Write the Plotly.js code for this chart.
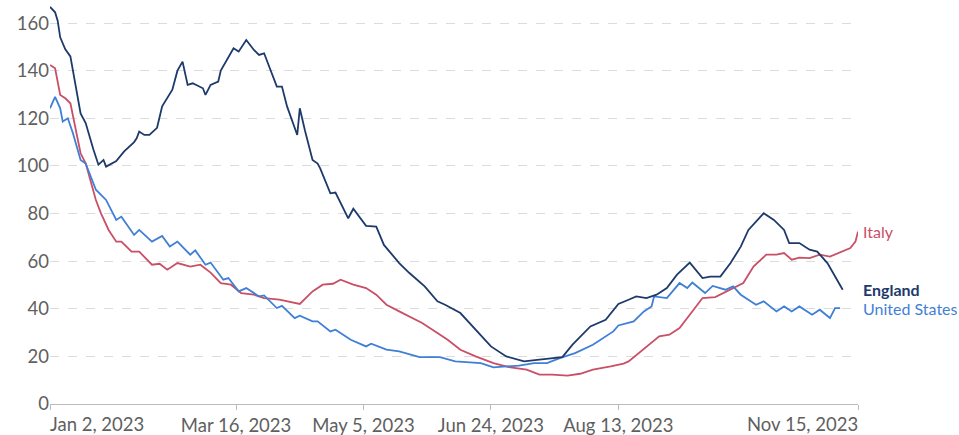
<!DOCTYPE html>
<html>
<head>
<meta charset="utf-8">
<script src="https://cdn.plot.ly/plotly-3.0.1.min.js"></script>
<style>html,body{margin:0;padding:0;background:#fff;}#chart{width:959px;height:435px;}</style>
</head>
<body>
<div id="chart"></div>
<script>
const englandDates = ["2023-01-02","2023-01-04","2023-01-05","2023-01-06","2023-01-08","2023-01-10","2023-01-14","2023-01-16","2023-01-19","2023-01-21","2023-01-23","2023-01-24","2023-01-28","2023-01-31","2023-02-04","2023-02-05","2023-02-06","2023-02-08","2023-02-10","2023-02-13","2023-02-15","2023-02-19","2023-02-21","2023-02-23","2023-02-25","2023-02-27","2023-03-03","2023-03-04","2023-03-06","2023-03-09","2023-03-10","2023-03-15","2023-03-17","2023-03-20","2023-03-23","2023-03-25","2023-03-27","2023-04-01","2023-04-03","2023-04-05","2023-04-09","2023-04-10","2023-04-12","2023-04-15","2023-04-17","2023-04-18","2023-04-22","2023-04-24","2023-04-29","2023-05-01","2023-05-06","2023-05-10","2023-05-13","2023-05-19","2023-05-23","2023-05-29","2023-06-03","2023-06-06","2023-06-12","2023-06-18","2023-06-24","2023-06-30","2023-07-07","2023-07-13","2023-07-18","2023-07-22","2023-07-26","2023-08-02","2023-08-08","2023-08-13","2023-08-17","2023-08-20","2023-08-24","2023-08-28","2023-09-01","2023-09-05","2023-09-10","2023-09-15","2023-09-18","2023-09-22","2023-09-26","2023-09-30","2023-10-03","2023-10-09","2023-10-13","2023-10-17","2023-10-19","2023-10-23","2023-10-27","2023-10-30","2023-11-03","2023-11-05","2023-11-09"];
const englandValues = [166.8,164.5,161,154,149,146,122,118,107,100.5,102.5,99.7,102,106,110,111.6,114.4,113,113,116,125,132,140,143.8,134,134.7,132.6,129.8,134,135.4,140,149.4,148,152.9,148.7,146.6,147.3,133.3,133.3,125,113,124.2,115,102.5,101,99,88.5,88.8,78,82,74.8,74.5,66.8,59.2,55,49.4,43.1,41.7,38.2,31.2,24.2,20,17.9,18.6,19.3,19.7,24.9,32.6,35.4,42,43.8,45.2,44.5,45.9,48.7,54.3,59.4,52.9,53.5,53.5,59.2,66.1,73.1,80.1,77.3,73.1,67.6,67.6,64.8,64,59.2,55.6,48];

const usDates = ["2023-01-02","2023-01-04","2023-01-06","2023-01-07","2023-01-09","2023-01-11","2023-01-14","2023-01-16","2023-01-20","2023-01-24","2023-01-28","2023-01-30","2023-02-04","2023-02-06","2023-02-11","2023-02-15","2023-02-18","2023-02-21","2023-02-26","2023-02-28","2023-03-04","2023-03-06","2023-03-11","2023-03-13","2023-03-17","2023-03-20","2023-03-25","2023-03-27","2023-04-01","2023-04-03","2023-04-08","2023-04-10","2023-04-15","2023-04-17","2023-04-22","2023-04-24","2023-04-30","2023-05-06","2023-05-08","2023-05-14","2023-05-19","2023-05-27","2023-06-04","2023-06-10","2023-06-20","2023-06-25","2023-06-30","2023-07-05","2023-07-11","2023-07-16","2023-07-21","2023-07-27","2023-08-03","2023-08-08","2023-08-11","2023-08-13","2023-08-17","2023-08-19","2023-08-23","2023-08-26","2023-08-27","2023-09-01","2023-09-06","2023-09-09","2023-09-11","2023-09-16","2023-09-19","2023-09-24","2023-09-27","2023-09-30","2023-10-06","2023-10-09","2023-10-14","2023-10-17","2023-10-20","2023-10-23","2023-10-28","2023-10-31","2023-11-04","2023-11-06","2023-11-08"];
const usValues = [124.2,129,124.2,118.6,120,113.7,102.5,101,90,85.7,77.3,78.7,71,73.1,68.2,70.6,66.1,68.2,62.7,64.5,58.5,59.4,52.2,52.9,47.3,48.7,45.2,45.6,40.3,41.2,36.1,37.1,34.7,34.7,30.5,31.2,27,24.2,25.3,22.8,22.1,19.7,19.7,17.9,17.2,15.4,15.8,16.1,17.2,17.2,19.3,21.4,24.9,28.4,30.5,33,34,34.7,38.9,41,45.2,44.5,50.8,48.7,51,46.6,49.6,48,49.4,45.9,41.7,43.1,38.9,41,38.9,41,37.5,39.6,36.1,40.3,40.3];

const italyDates = ["2023-01-02","2023-01-04","2023-01-06","2023-01-08","2023-01-10","2023-01-14","2023-01-16","2023-01-20","2023-01-22","2023-01-25","2023-01-28","2023-01-30","2023-02-03","2023-02-06","2023-02-11","2023-02-14","2023-02-17","2023-02-21","2023-02-26","2023-03-02","2023-03-06","2023-03-10","2023-03-14","2023-03-18","2023-03-23","2023-03-27","2023-04-02","2023-04-07","2023-04-10","2023-04-15","2023-04-19","2023-04-23","2023-04-26","2023-05-01","2023-05-06","2023-05-10","2023-05-14","2023-05-19","2023-05-23","2023-05-28","2023-06-03","2023-06-07","2023-06-12","2023-06-18","2023-06-25","2023-07-01","2023-07-08","2023-07-13","2023-07-18","2023-07-24","2023-07-29","2023-08-03","2023-08-10","2023-08-15","2023-08-17","2023-08-21","2023-08-25","2023-08-29","2023-09-02","2023-09-06","2023-09-10","2023-09-15","2023-09-20","2023-09-26","2023-10-01","2023-10-05","2023-10-10","2023-10-14","2023-10-17","2023-10-20","2023-10-23","2023-10-27","2023-10-31","2023-11-04","2023-11-08","2023-11-12","2023-11-14","2023-11-15"];
const italyValues = [142.4,141,129.8,128.4,126.3,105.3,101.1,85.7,80.1,73.1,68.2,68.2,64,64,58.5,58.9,56.4,59.2,57.7,58.5,55.2,50.8,50.1,46.6,45.9,44.5,43.8,42.6,42,47.3,50.1,50.5,52.2,50.1,48.7,45.9,41.7,38.9,36.8,34,29.8,27,22.8,20,17.2,15.5,14.4,12.3,12.3,11.9,12.7,14.4,15.8,17,17.9,21.4,24.9,28.4,29.1,31.9,37.5,44.5,44.9,48,50.8,57.7,62.7,62.7,63.4,60.6,61.5,61.3,62.7,61.9,63.6,65.5,68.2,72.4];

const tickDates = ["2023-01-02","2023-03-16","2023-05-05","2023-06-24","2023-08-13","2023-11-15"];
const tickLabels = ["Jan 2, 2023","Mar 16, 2023","May 5, 2023","Jun 24, 2023","Aug 13, 2023","Nov 15, 2023"];
const yTicks = [0,20,40,60,80,100,120,140,160];
const seriesNames = ["Italy","England","United States"];

const colors = {"Italy":"#ca4f66","England":"#1d3a6b","United States":"#3f7fd6"};
const FONT = "Lato, 'Noto Sans', sans-serif";
const TICK_SIZE = 18.5;
const TICK_COLOR = '#5f5f5f';

const traces = [
  {x: italyDates, y: italyValues, name: seriesNames[0]},
  {x: usDates, y: usValues, name: seriesNames[2]},
  {x: englandDates, y: englandValues, name: seriesNames[1]}
].map(t => Object.assign(t, {type:'scatter', mode:'lines', line:{color:colors[t.name], width:1.8}, hoverinfo:'skip'}));

const lastVal = {
  "Italy": italyValues[italyValues.length-1],
  "England": englandValues[englandValues.length-1],
  "United States": usValues[usValues.length-1]
};

const annotations = seriesNames.map(n => ({
  xref:'paper', x:1, xanchor:'left', xshift:3,
  yref:'y', y:lastVal[n], yanchor:'middle',
  text: n === 'England' ? '<b>'+n+'</b>' : n, showarrow:false,
  font:{family:FONT, size:16, color:colors[n]}
}));
annotations.push({
  xref:'x', x:tickDates[0], xanchor:'left', xshift:-2,
  yref:'paper', y:0, yanchor:'top', yshift:-7,
  text:tickLabels[0], showarrow:false, font:{family:FONT, size:TICK_SIZE, color:TICK_COLOR}
});
annotations.push({
  xref:'x', x:tickDates[tickDates.length-1], xanchor:'right', xshift:2,
  yref:'paper', y:0, yanchor:'top', yshift:-7,
  text:tickLabels[tickLabels.length-1], showarrow:false, font:{family:FONT, size:TICK_SIZE, color:TICK_COLOR}
});

const layout = {
  width:959, height:435,
  margin:{l:50, r:101, t:4, b:31, pad:0},
  paper_bgcolor:'#fff', plot_bgcolor:'#fff',
  showlegend:false,
  font:{family:FONT, color:TICK_COLOR},
  xaxis:{
    type:'date', range:['2023-01-02','2023-11-15'],
    tickvals: tickDates,
    ticktext: tickLabels.map((t,i)=> (i===0||i===tickLabels.length-1) ? '' : t),
    ticks:'outside', ticklen:5, tickcolor:'#bbb', tickwidth:1,
    showline:true, linecolor:'#bbb', linewidth:1,
    showgrid:false, zeroline:false,
    tickfont:{family:FONT, size:TICK_SIZE, color:TICK_COLOR}
  },
  yaxis:{
    range:[0,168], tickvals:yTicks, ticktext:yTicks.map(String),
    showgrid:true, gridcolor:'#dcdcdc', griddash:'dash', gridwidth:1,
    zeroline:false, showline:false, ticks:'',
    tickfont:{family:FONT, size:TICK_SIZE, color:TICK_COLOR}
  },
  annotations: annotations
};

Plotly.newPlot('chart', traces, layout, {displayModeBar:false, staticPlot:true});
</script>
</body>
</html>
